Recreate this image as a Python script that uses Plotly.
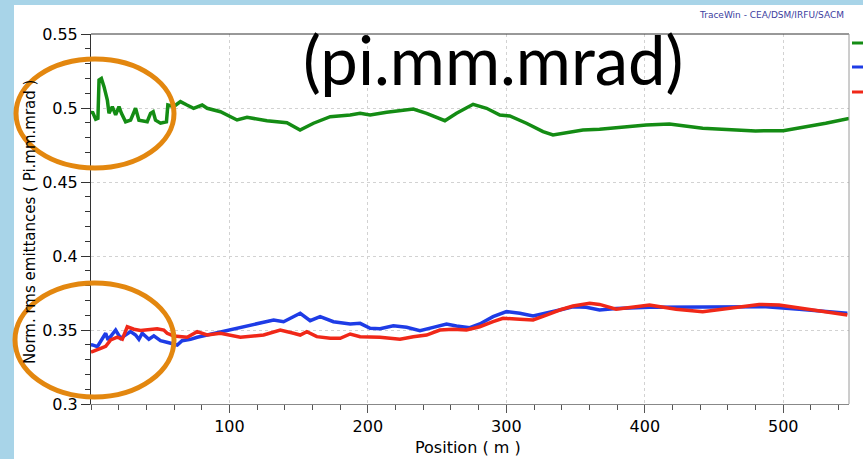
import plotly.graph_objects as go

# ---- data ----
green_pos = [0, 1, 3.4, 5, 5.8, 7.5, 9.4, 11.8, 13, 15.4, 17.8, 20.2, 22, 25, 28.6, 32.2, 34.6, 40.6, 43, 44.9,
             46.6, 50.2, 54.5, 55.5, 59.8, 64.6, 69.3, 74.1, 80.3, 83.9, 93.5, 105.5, 112.7, 127.1, 141.5, 151,
             160.7, 172.8, 187.2, 194.4, 201.6, 213.6, 232.8, 242.4, 255.6, 264, 276, 285.7, 295.3, 302.5, 314.5,
             326.5, 333.7, 343.3, 355.3, 367.3, 401, 417.8, 441.8, 480, 500, 530.7, 547.5]
green_emit = [0.496, 0.4975, 0.4924, 0.493, 0.519, 0.520, 0.5144, 0.5054, 0.4964, 0.5009, 0.4953, 0.5009, 0.4964,
              0.4907, 0.4918, 0.4998, 0.4918, 0.4907, 0.4964, 0.4975, 0.4918, 0.4897, 0.4907, 0.502, 0.501, 0.5043,
              0.502, 0.4998, 0.502, 0.4998, 0.4975, 0.4919, 0.4937, 0.4914, 0.4901, 0.4851, 0.4897, 0.4941, 0.4953,
              0.4964, 0.4953, 0.4971, 0.4993, 0.4964, 0.4914, 0.4964, 0.5025, 0.4998, 0.4953, 0.4946, 0.4897, 0.484,
              0.4818, 0.4833, 0.4851, 0.4856, 0.4885, 0.4892, 0.4863, 0.4845, 0.4847, 0.4897, 0.493]

blue_pos = [0, 1, 4.6, 8.2, 10.6, 12.3, 17.8, 21.4, 25, 28.6, 32.2, 34.6, 37, 41.8, 45.4, 50.2, 56.2, 62.3, 65.8,
            71.9, 76.7, 83.9, 93.5, 103.1, 115.1, 124.7, 131.9, 139.1, 146.3, 151.1, 158.3, 165.5, 175.1, 187.2,
            194.4, 201.6, 208.8, 218.4, 228, 237.6, 247.2, 256.8, 264, 273.6, 280.8, 290.4, 300.1, 309.7, 319.3,
            328.9, 338.5, 348.1, 357.7, 367.3, 379.3, 403.4, 439.4, 487.5, 511.5, 546.3]
blue_emit = [0.34, 0.3399, 0.3387, 0.3444, 0.3478, 0.3433, 0.35, 0.3444, 0.3466, 0.3489, 0.3466, 0.3437, 0.3478,
             0.3437, 0.346, 0.3428, 0.3414, 0.3399, 0.3428, 0.3437, 0.3451, 0.3466, 0.3489, 0.3505, 0.3534, 0.3549,
             0.3568, 0.3556, 0.359, 0.3613, 0.3563, 0.359, 0.3556, 0.3541, 0.3545, 0.3511, 0.3509, 0.3529, 0.3518,
             0.3496, 0.3518, 0.3541, 0.3527, 0.3516, 0.3541, 0.359, 0.3624, 0.3613, 0.3595, 0.3613, 0.3635, 0.3657,
             0.3653, 0.3635, 0.3646, 0.3653, 0.3653, 0.3657, 0.364, 0.3613]

red_pos = [0, 1, 7, 10.6, 14.2, 19, 22.6, 26.2, 31, 35.8, 40.6, 47.8, 52.6, 55, 59.8, 69.5, 76.7, 83.9, 93.5, 107.9,
           124.7, 136.7, 146.3, 151.1, 155.9, 163.1, 172.8, 180, 187.2, 194.4, 208.8, 223.2, 232.8, 242.4, 252,
           261.6, 271.2, 280.8, 290.4, 297.6, 309.7, 319.3, 328.9, 338.5, 348.1, 360.2, 367.3, 379.3, 403.4, 422.6,
           441.8, 463.4, 482.6, 497, 521.1, 546.3]
red_emit = [0.335, 0.3353, 0.3376, 0.339, 0.3433, 0.3451, 0.3437, 0.3522, 0.3505, 0.3496, 0.35, 0.3509, 0.35, 0.3478,
            0.346, 0.3451, 0.3489, 0.3466, 0.3478, 0.3451, 0.3466, 0.35, 0.3478, 0.3466, 0.3489, 0.3455, 0.3444,
            0.3444, 0.3473, 0.3455, 0.3451, 0.3437, 0.3455, 0.3466, 0.35, 0.3505, 0.35, 0.3522, 0.3556, 0.3579,
            0.3572, 0.3568, 0.3601, 0.3635, 0.3662, 0.368, 0.3673, 0.364, 0.3669, 0.364, 0.3624, 0.3653, 0.3673,
            0.3669, 0.3635, 0.3601]

x_ticks = [100, 200, 300, 400, 500]
y_ticks = [0.3, 0.35, 0.4, 0.45, 0.5, 0.55]
y_tick_labels = ["0.3", "0.35", "0.4", "0.45", "0.5", "0.55"]

GREEN = "#148c14"
BLUE = "#1e3ce6"
RED = "#f02818"
ORANGE = "#e3870f"

fig = go.Figure()
for xs, ys, c in [(green_pos, green_emit, GREEN), (blue_pos, blue_emit, BLUE), (red_pos, red_emit, RED)]:
    fig.add_trace(go.Scatter(x=xs, y=ys, mode="lines", line=dict(color=c, width=3.5), showlegend=False))

W, H = 863, 459
L, R, T, B = 91, 849, 34, 404
pw, ph = R - L, B - T


def px(x):
    return (x - L) / pw


def py(y):
    return (B - y) / ph


shapes = []
# white slide panel
shapes.append(dict(type="rect", xref="paper", yref="paper", x0=px(14), x1=px(870), y0=py(470), y1=py(5),
                   fillcolor="white", line=dict(width=0), layer="below"))
# frame: top dark, right gray
shapes.append(dict(type="line", xref="paper", yref="paper", x0=0, x1=1, y0=1, y1=1,
                   line=dict(color="#333333", width=1)))
shapes.append(dict(type="line", xref="paper", yref="paper", x0=1, x1=1, y0=0, y1=1,
                   line=dict(color="#9a9a9a", width=1)))
# legend color marks (labels cut off at right)
for yy, c in [(43, GREEN), (67, BLUE), (92, RED)]:
    shapes.append(dict(type="line", xref="paper", yref="paper", x0=px(852), x1=px(863), y0=py(yy), y1=py(yy),
                       line=dict(color=c, width=3)))
# orange ellipses
shapes.append(dict(type="circle", xref="paper", yref="paper", x0=px(16), x1=px(174), y0=py(168), y1=py(59),
                   line=dict(color=ORANGE, width=5), layer="above"))
shapes.append(dict(type="circle", xref="paper", yref="paper", x0=px(15), x1=px(174), y0=py(397), y1=py(283),
                   line=dict(color=ORANGE, width=5), layer="above"))

annotations = [
    dict(text="TraceWin - CEA/DSM/IRFU/SACM", xref="paper", yref="paper", x=px(846), y=py(15),
         xanchor="right", yanchor="middle", showarrow=False,
         font=dict(family="DejaVu Sans", size=9, color="#3c40a0")),
    dict(text="(pi.mm.mrad)", xref="paper", yref="paper", x=px(493), y=py(59),
         xanchor="center", yanchor="middle", showarrow=False,
         font=dict(family="Lato", size=67, color="black")),
    dict(text="Norm. rms emittances ( Pi.mm.mrad )", xref="paper", yref="paper", x=px(30), y=py(222),
         xanchor="center", yanchor="middle", textangle=-90, showarrow=False,
         font=dict(family="DejaVu Sans", size=15, color="black")),
    dict(text="Position ( m )", xref="paper", yref="paper", x=px(468), y=py(447),
         xanchor="center", yanchor="middle", showarrow=False,
         font=dict(family="DejaVu Sans", size=16, color="black")),
]

fig.update_layout(
    width=W, height=H,
    margin=dict(l=L, r=W - R, t=T, b=H - B, pad=0),
    paper_bgcolor="#a8d4e8",
    plot_bgcolor="white",
    shapes=shapes,
    annotations=annotations,
    showlegend=False,
)
fig.update_xaxes(
    range=[0, 547.5], tickvals=x_ticks, ticks="outside", ticklen=8, tickcolor="#555555",
    showline=True, linecolor="#888888", linewidth=1,
    showgrid=True, gridcolor="#d2d2d2", griddash="dot", gridwidth=1, zeroline=False,
    tickfont=dict(family="DejaVu Sans", size=16, color="black"),
    minor=dict(dtick=20, tick0=0, ticks="outside", ticklen=5, tickcolor="#555555", showgrid=False),
)
fig.update_yaxes(
    range=[0.3, 0.55], tickvals=y_ticks, ticktext=y_tick_labels, ticks="outside", ticklen=9, tickcolor="#333333",
    showline=True, linecolor="#333333", linewidth=1,
    showgrid=True, gridcolor="#d2d2d2", griddash="dot", gridwidth=1, zeroline=False,
    tickfont=dict(family="DejaVu Sans", size=16, color="black"),
    minor=dict(dtick=0.01, tick0=0.3, ticks="outside", ticklen=5, tickcolor="#333333", showgrid=False),
)

fig.write_html("out.html")
